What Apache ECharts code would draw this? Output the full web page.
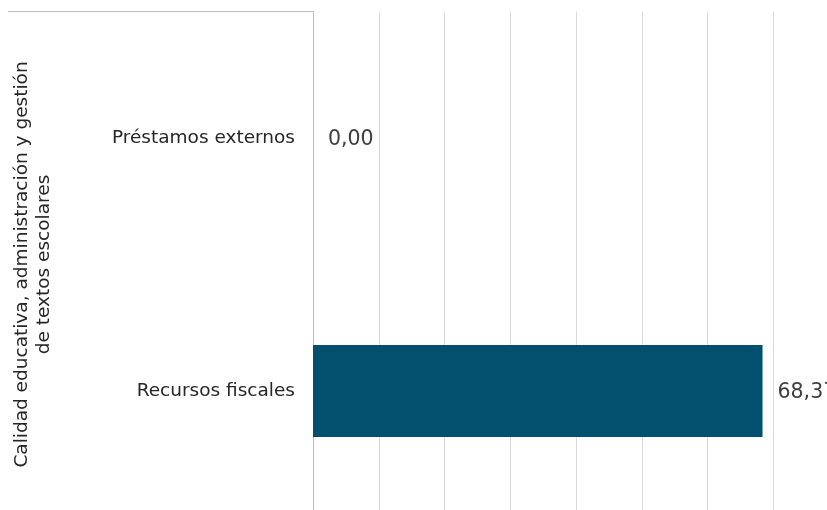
<!DOCTYPE html>
<html>
<head>
<meta charset="utf-8">
<script src="https://cdn.jsdelivr.net/npm/echarts@6/dist/echarts.min.js"></script>
<style>
  html, body { margin: 0; padding: 0; background: #fff; }
  #chart { width: 827px; height: 510px; }
</style>
</head>
<body>
<div id="chart"></div>
<script>
// Financing sources for the programme, in millions
const categories = ['Recursos fiscales', 'Préstamos externos'];
const values = [68.37, 0.00];
const groupTitle = 'Calidad educativa, administración y gestión\nde textos escolares';
const axisMin = 0;
const axisMax = 80;
const axisStep = 10;

const FONT = '"DejaVu Sans", sans-serif';
const fmt = v => v.toFixed(2).replace('.', ',');

const chart = echarts.init(document.getElementById('chart'), null, { renderer: 'canvas' });

const gridLeft = 313;
const gridTop = 11.5;

chart.setOption({
  animation: false,
  backgroundColor: '#ffffff',
  textStyle: { fontFamily: FONT },
  grid: {
    left: gridLeft, top: gridTop, right: -12, bottom: -7.5,
    containLabel: false, outerBoundsMode: 'none'
  },
  xAxis: {
    type: 'value',
    min: axisMin,
    max: axisMax,
    interval: axisStep,
    axisLabel: { show: false },
    axisLine: { show: false },
    axisTick: { show: false },
    splitLine: { show: true, lineStyle: { color: '#d9d9d9', width: 1 } }
  },
  yAxis: {
    type: 'category',
    data: categories,
    axisLine: { show: true, lineStyle: { color: '#bfbfbf', width: 1 } },
    axisTick: { show: false },
    axisLabel: { color: '#262626', fontSize: 18.5, fontFamily: FONT, margin: 18 },
    name: groupTitle,
    nameLocation: 'middle',
    nameRotate: 90,
    nameGap: 258,
    nameTextStyle: { color: '#262626', fontSize: 18.5, fontFamily: FONT, lineHeight: 22, align: 'center' }
  },
  series: [{
    type: 'bar',
    data: values,
    barCategoryGap: '63.6%',
    itemStyle: { color: '#02506e' },
    label: {
      show: true,
      position: 'right',
      distance: 15,
      offset: [0, 2],
      color: '#404040',
      fontSize: 20.5,
      fontFamily: FONT,
      formatter: p => fmt(p.value)
    }
  }],
  graphic: [{
    type: 'line',
    shape: { x1: 8, y1: gridTop, x2: gridLeft, y2: gridTop },
    style: { stroke: '#bfbfbf', lineWidth: 1 },
    silent: true
  }]
});
</script>
</body>
</html>
